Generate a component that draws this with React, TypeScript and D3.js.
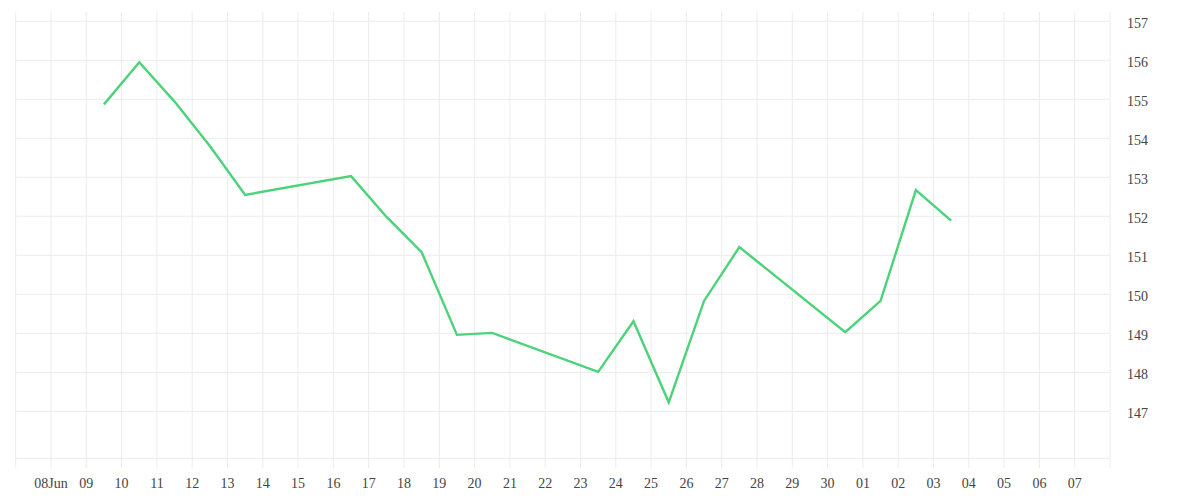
import React from "react";
import * as d3 from "d3";

const dates: string[] = [
  "2025-06-09", "2025-06-10", "2025-06-11", "2025-06-12", "2025-06-13",
  "2025-06-16", "2025-06-17", "2025-06-18", "2025-06-19", "2025-06-20",
  "2025-06-23", "2025-06-24", "2025-06-25", "2025-06-26", "2025-06-27",
  "2025-06-30", "2025-07-01", "2025-07-02", "2025-07-03",
];
const values: number[] = [
  154.87, 155.95, 154.94, 153.8, 152.55,
  153.03, 151.99, 151.08, 148.96, 149.01,
  148.01, 149.31, 147.23, 149.83, 151.21,
  149.03, 149.83, 152.67, 151.89,
];
const tickDates: string[] = [
  "2025-06-08", "2025-06-09", "2025-06-10", "2025-06-11", "2025-06-12", "2025-06-13",
  "2025-06-14", "2025-06-15", "2025-06-16", "2025-06-17", "2025-06-18", "2025-06-19",
  "2025-06-20", "2025-06-21", "2025-06-22", "2025-06-23", "2025-06-24", "2025-06-25",
  "2025-06-26", "2025-06-27", "2025-06-28", "2025-06-29", "2025-06-30", "2025-07-01",
  "2025-07-02", "2025-07-03", "2025-07-04", "2025-07-05", "2025-07-06", "2025-07-07",
];
const tickLabels: string[] = [
  "08Jun", "09", "10", "11", "12", "13", "14", "15", "16", "17", "18", "19",
  "20", "21", "22", "23", "24", "25", "26", "27", "28", "29", "30", "01",
  "02", "03", "04", "05", "06", "07",
];
const yTicks: number[] = [147, 148, 149, 150, 151, 152, 153, 154, 155, 156, 157];

const parse = (s: string, h = 0) => {
  const [y, m, d] = s.split("-").map(Number);
  return new Date(Date.UTC(y, m - 1, d, h));
};

export default function App() {
  const W = 1200, H = 500;
  const left = 15.7, right = 1110, top = 12, bottom = 458.3;
  const x = d3
    .scaleUtc()
    .domain([parse("2025-06-07"), parse("2025-07-08")])
    .range([left, right]);
  const y = d3.scaleLinear().domain([145.795, 157.238]).range([bottom, top]);

  const pts = dates.map((d, i) => [x(parse(d, 12)), y(values[i])] as [number, number]);
  const line = d3.line()(pts) || "";

  const gridDays = d3.utcDay.range(parse("2025-06-07"), parse("2025-07-08"));
  const grid = "#ececec";
  const txt = "#444";

  return (
    <svg
      width={W}
      height={H}
      style={{ position: "absolute", left: 0, top: 0, background: "#fff" }}
      fontFamily="'Liberation Serif', serif"
    >
      {gridDays.map((d, i) => (
        <line key={"v" + i} x1={x(d)} x2={x(d)} y1={top} y2={468} stroke={grid} strokeWidth={1} />
      ))}
      <line x1={right} x2={right} y1={top} y2={468} stroke={grid} strokeWidth={1} />
      {yTicks.map((t) => (
        <line key={"h" + t} x1={left} x2={right} y1={y(t)} y2={y(t)} stroke={grid} strokeWidth={1} />
      ))}
      <line x1={left} x2={right} y1={bottom} y2={bottom} stroke={grid} strokeWidth={1} />
      {yTicks.map((t) => (
        <text key={"yl" + t} x={1127} y={y(t) + 7} fontSize={14} fill={txt}>
          {t}
        </text>
      ))}
      {tickDates.map((d, i) => (
        <text key={"xl" + i} x={x(parse(d))} y={488} fontSize={14} fill={txt} textAnchor="middle">
          {tickLabels[i]}
        </text>
      ))}
      <path d={line} fill="none" stroke="#4cd37a" strokeWidth={2.4} strokeLinejoin="miter" />
    </svg>
  );
}
